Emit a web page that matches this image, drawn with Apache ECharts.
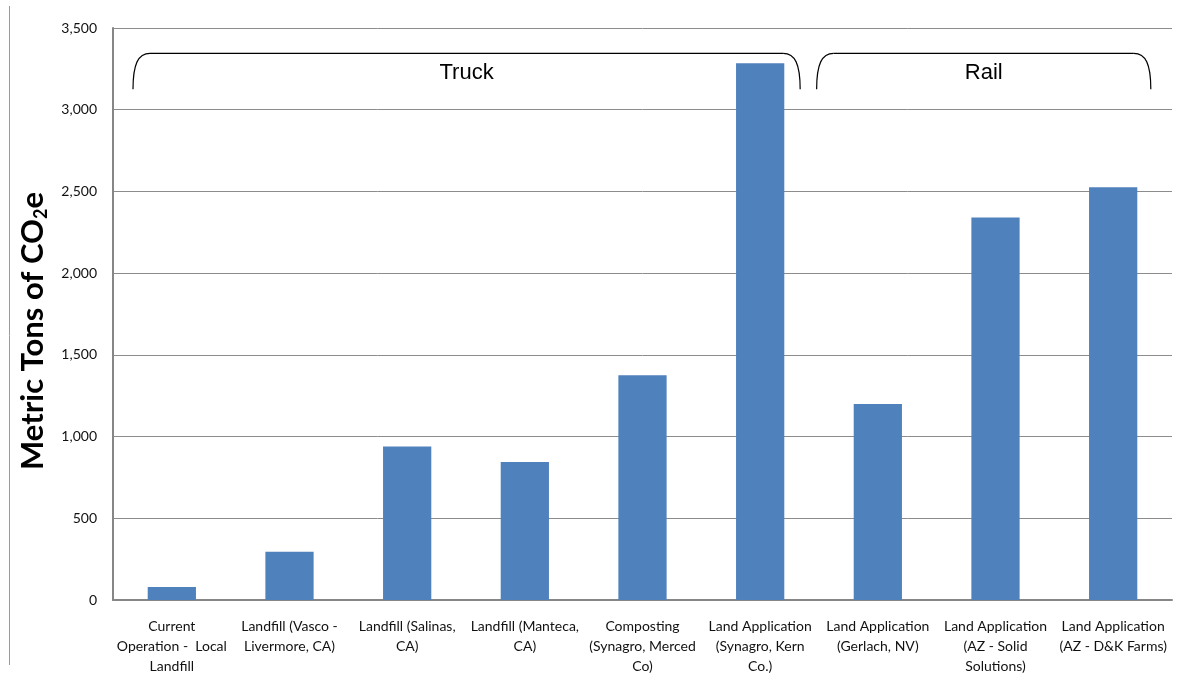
<!DOCTYPE html>
<html>
<head>
<meta charset="utf-8">
<script src="https://cdn.jsdelivr.net/npm/echarts@6/dist/echarts.min.js"></script>
<style>
  html, body { margin: 0; padding: 0; background: #fff; }
  #chart { width: 1196px; height: 678px; }
</style>
</head>
<body>
<div id="chart"></div>
<script>
// Annual emissions by biosolids disposal option
const categories = [
  'Current\nOperation -  Local\nLandfill',
  'Landfill (Vasco -\nLivermore, CA)',
  'Landfill (Salinas,\nCA)',
  'Landfill (Manteca,\nCA)',
  'Composting\n(Synagro, Merced\nCo)',
  'Land Application\n(Synagro, Kern\nCo.)',
  'Land Application\n(Gerlach, NV)',
  'Land Application\n(AZ - Solid\nSolutions)',
  'Land Application\n(AZ - D&K Farms)'
];
const emissions = [80, 295, 940, 845, 1375, 3285, 1200, 2340, 2525];

// Transport mode groups: first and last category index covered by each brace
const groupNames = ['Truck', 'Rail'];
const groupStart = [0, 6];
const groupEnd = [5, 8];

const yMin = 0, yMax = 3500, yStep = 500;

const chart = echarts.init(document.getElementById('chart'));

chart.setOption({
  animation: false,
  grid: { left: 113, right: 24, top: 28, bottom: 78 },
  xAxis: {
    type: 'category',
    data: categories,
    axisLine: { lineStyle: { color: '#868686', width: 2 } },
    axisTick: { show: false },
    axisLabel: {
      interval: 0,
      margin: 16,
      color: '#111',
      fontFamily: 'Lato',
      fontSize: 14,
      lineHeight: 20
    }
  },
  yAxis: {
    type: 'value',
    min: yMin,
    max: yMax,
    interval: yStep,
    name: '{b|Metric Tons of CO}{s|2}{b|e}',
    nameLocation: 'middle',
    nameGap: 62,
    nameRotate: 90,
    nameTextStyle: {
      padding: [0, 0, 0, -34],
      rich: {
        b: { fontFamily: 'Lato', fontWeight: 'bold', fontSize: 31, color: '#000' },
        s: { fontFamily: 'Lato', fontWeight: 'bold', fontSize: 18, color: '#000', padding: [16, 0, 0, 0] }
      }
    },
    axisLine: { show: true, lineStyle: { color: '#868686', width: 2 } },
    axisTick: { show: false },
    splitLine: { lineStyle: { color: '#8c8c8c', width: 1 } },
    axisLabel: {
      margin: 16,
      color: '#111',
      fontFamily: 'Lato',
      fontSize: 14,
      formatter: v => v.toLocaleString('en-US')
    }
  },
  series: [{
    type: 'bar',
    data: emissions,
    barWidth: '41%',
    itemStyle: { color: '#4F81BD' }
  }]
});

// Group braces drawn above the bars, positioned through the axes
function drawBraces() {
  const catW = chart.convertToPixel({ xAxisIndex: 0 }, 1) - chart.convertToPixel({ xAxisIndex: 0 }, 0);
  const yTop = chart.convertToPixel({ yAxisIndex: 0 }, 3345);
  const yBot = chart.convertToPixel({ yAxisIndex: 0 }, 3125);
  const insetL = [0.33 * catW, 0.52 * catW];
  const insetR = [0.34 * catW, 0.32 * catW];
  const stroke = { stroke: '#000', lineWidth: 1.2, fill: null };
  const elements = [];
  groupNames.forEach((name, i) => {
    const x0 = chart.convertToPixel({ xAxisIndex: 0 }, groupStart[i]) - insetL[i];
    const x1 = chart.convertToPixel({ xAxisIndex: 0 }, groupEnd[i]) + insetR[i];
    const rx = 17;
    const h = yBot - yTop;
    elements.push({
      type: 'bezierCurve',
      shape: { x1: x0, y1: yBot, cpx1: x0, cpy1: yTop + h * 0.3, cpx2: x0 + rx * 0.3, cpy2: yTop, x2: x0 + rx, y2: yTop },
      style: stroke, z: 100
    });
    elements.push({
      type: 'line',
      shape: { x1: x0 + rx, y1: yTop, x2: x1 - rx, y2: yTop },
      style: stroke, z: 100
    });
    elements.push({
      type: 'bezierCurve',
      shape: { x1: x1 - rx, y1: yTop, cpx1: x1 - rx * 0.3, cpy1: yTop, cpx2: x1, cpy2: yTop + h * 0.3, x2: x1, y2: yBot },
      style: stroke, z: 100
    });
    elements.push({
      type: 'text',
      x: (x0 + x1) / 2,
      y: yTop + 20,
      style: {
        text: name,
        fill: '#000',
        font: '22px "Liberation Sans", Arial, sans-serif',
        textAlign: 'center',
        textVerticalAlign: 'middle'
      },
      z: 100
    });
  });
  // Page frame line along the left edge
  elements.push({
    type: 'line',
    shape: { x1: 9.5, y1: 6, x2: 9.5, y2: 665 },
    style: { stroke: '#9a9a9a', lineWidth: 1 },
    z: 100
  });
  chart.setOption({ graphic: { elements: elements } });
}
drawBraces();
</script>
</body>
</html>
